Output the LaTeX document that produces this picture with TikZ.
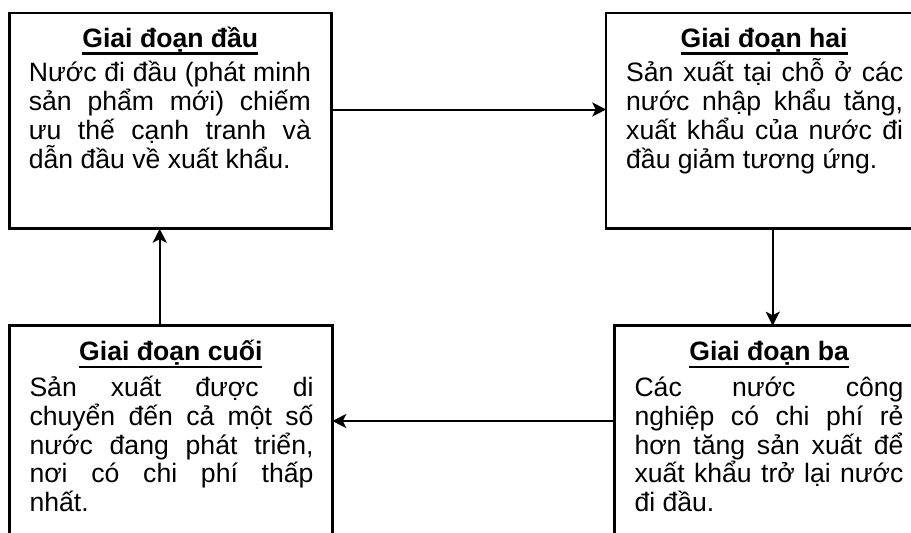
\documentclass[tikz,border=0pt]{standalone}
\usepackage{fontspec}
\setmainfont{Liberation Sans}
\usetikzlibrary{arrows.meta}

% one justified line: spaces stretch equally to fill the measure
\newcommand\jline[1]{\hbox to\hsize{\spaceskip=0.278em plus 1fil\relax\xspaceskip=\spaceskip\relax #1}}
% closing line of a paragraph: set ragged
\newcommand\lastline[1]{\hbox to\hsize{#1\hfil}}
% paragraph block whose baseline is that of its first line
\newcommand\stagebody[2]{\vtop{\hsize=#1\baselineskip=28.8pt\lineskiplimit=-100pt\lineskip=0pt\relax #2}}
% bold heading with a heavy underline
\newcommand\stagehead[1]{\setbox0\hbox{\bfseries #1}\rlap{\rule[-7.9pt]{\wd0}{2.5pt}}\box0}

\tikzset{
  stagebox/.style={draw, line width=2.5pt, rectangle, inner sep=0pt, outer sep=0pt, anchor=north west, fill=white},
  stagetitle/.style={anchor=base, inner sep=0pt},
  stagetext/.style={anchor=base west, inner sep=0pt},
  flow/.style={line width=2pt, -{Stealth[length=14pt, width=14pt, inset=3.5pt]}},
}

\begin{document}
\begin{tikzpicture}[x=1pt, y=-1pt, font=\fontsize{26.6pt}{28.8pt}\selectfont]
\path[use as bounding box] (0,0) rectangle (911,533);
\clip (0,0) rectangle (911,533);
\fill[white] (0,0) rectangle (911,533);

% the four stage boxes
\node[stagebox, minimum width=322pt, minimum height=215.7pt] (b1) at (9.3,13) {};
\node[stagebox, minimum width=315.8pt, minimum height=215.7pt] (b2) at (606.2,13) {};
\node[stagebox, minimum width=323pt, minimum height=230pt] (b3) at (9.3,325.7) {};
\node[stagebox, minimum width=309pt, minimum height=230pt] (b4) at (614.7,325.7) {};

% headings
\node[stagetitle] (h1) at ([yshift=-34pt]b1.north) {\stagehead{Giai đoạn đầu}};
\node[stagetitle] (h2) at ([yshift=-34pt]b2.north) {\stagehead{Giai đoạn hai}};
\node[stagetitle] (h3) at ([yshift=-34.5pt]b3.north) {\stagehead{Giai đoạn cuối}};
\node[stagetitle] (h4) at ([yshift=-34.5pt]b4.north) {\stagehead{Giai đoạn ba}};

% descriptions
\node[stagetext] (t1) at ([xshift=19.4pt, yshift=-68.7pt]b1.north west) {\stagebody{282pt}{%
  \jline{Nước đi đầu (phát minh}
  \jline{sản phẩm mới) chiếm}
  \jline{ưu thế cạnh tranh và}
  \lastline{dẫn đầu về xuất khẩu.}}};
\node[stagetext] (t2) at ([xshift=19.8pt, yshift=-68.7pt]b2.north west) {\stagebody{277pt}{%
  \jline{Sản xuất tại chỗ ở các}
  \jline{nước nhập khẩu tăng,}
  \jline{xuất khẩu của nước đi}
  \lastline{đầu giảm tương ứng.}}};
\node[stagetext] (t3) at ([xshift=20pt, yshift=-70.8pt]b3.north west) {\stagebody{284pt}{%
  \jline{Sản xuất được di}
  \jline{chuyển đến cả một số}
  \jline{nước đang phát triển,}
  \jline{nơi có chi phí thấp}
  \lastline{nhất.}}};
\node[stagetext] (t4) at ([xshift=19.6pt, yshift=-70.8pt]b4.north west) {\stagebody{269pt}{%
  \jline{Các nước công}
  \jline{nghiệp có chi phí rẻ}
  \jline{hơn tăng sản xuất để}
  \jline{xuất khẩu trở lại nước}
  \lastline{đi đầu.}}};

% the cycle of stages
\draw[flow] ([yshift=11.35pt]b1.east) -- ([yshift=11.35pt]b1.east -| b2.west);
\draw[flow] ([xshift=166.5pt]b2.south west) -- ([xshift=166.5pt]b2.south west |- b4.north);
\draw[flow] ([yshift=19.7pt]b4.west) -- ([yshift=19.7pt]b4.west -| b3.east);
\draw[flow] ([xshift=150.4pt]b3.north west) -- ([xshift=150.4pt]b3.north west |- b1.south);
\end{tikzpicture}
\end{document}
